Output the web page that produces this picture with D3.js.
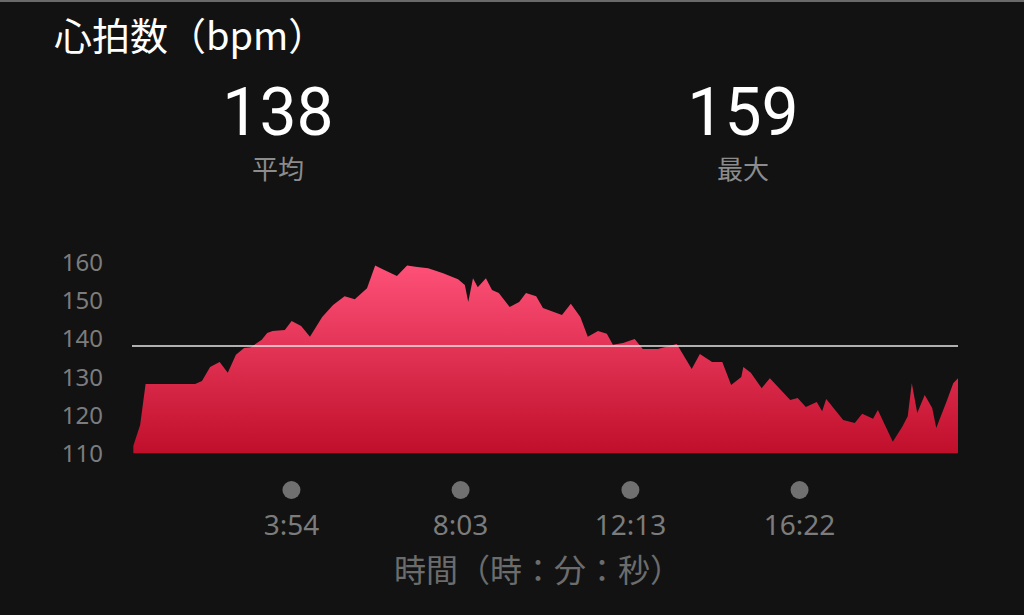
<!DOCTYPE html>
<html>
<head>
<meta charset="utf-8">
<script src="https://cdn.jsdelivr.net/npm/d3@7"></script>
<style>
  html, body { margin: 0; padding: 0; background: #121212; }
  svg { display: block; }
</style>
</head>
<body>
<svg id="chart" width="1024" height="615"></svg>
<script>
// ---- data (time in seconds, heart rate in bpm) ----
const times = [2, 12, 20, 93, 103, 115, 129, 141, 153, 165, 175, 191, 199, 207, 225, 235, 249, 262, 280, 296,
  313, 328, 346, 358, 366, 390, 405, 420, 436, 458, 480, 490, 495, 502, 509, 521, 530, 540, 556, 570,
  580, 595, 605, 633, 646, 660, 671, 686, 699, 708, 723, 740, 752, 774, 802, 824, 836, 854, 869, 882,
  897, 900, 911, 927, 939, 969, 980, 992, 1008, 1016, 1022, 1047, 1064, 1075, 1091, 1098, 1120, 1134, 1142, 1148,
  1156, 1167, 1178, 1184, 1200, 1209, 1216];
const bpm = [112, 117.4, 128.1, 128.1, 128.9, 132.5, 133.8, 131.0, 135.7, 137.5, 137.7, 139.6, 141.4, 141.9, 142.2, 144.5, 143.2, 140.4, 145.6, 148.7,
  151.0, 150.2, 153.1, 159.0, 158.3, 156.3, 159.0, 158.6, 158.3, 157.0, 155.4, 153.9, 149.5, 155.7, 153.3, 155.7, 152.6, 151.8, 148.2, 149.5,
  151.8, 151.0, 147.9, 146.1, 149.0, 145.6, 140.4, 141.9, 141.2, 138.3, 138.8, 139.8, 137.2, 137.2, 138.5, 132.0, 135.9, 133.8, 133.8, 127.8,
  129.9, 132.5, 131.0, 127.0, 129.6, 123.9, 124.4, 122.1, 123.4, 121.0, 124.2, 118.7, 117.9, 120.3, 119.0, 121.3, 113.0, 116.9, 119.7, 128.3,
  120.5, 125.2, 121.8, 116.6, 123.9, 128.3, 129.6];
const yTicks = [110, 120, 130, 140, 150, 160];
const xTicks = [234, 483, 733, 982];
const avgValue = 138;
const maxValue = 159;
const title = "心拍数（bpm）";
const avgLabel = "平均";
const maxLabel = "最大";
const xTitle = "時間（時：分：秒）";

const points = times.map((t, i) => ({ t, v: bpm[i] }));

const svg = d3.select("#chart");
const W = 1024, H = 615;

svg.append("rect").attr("width", W).attr("height", H).attr("fill", "#121212");
svg.append("rect").attr("width", W).attr("height", 2).attr("fill", "#6a6a6a");

const x = d3.scaleLinear().domain([0, 1216]).range([132, 958]);
const y = d3.scaleLinear().domain([110, 160]).range([453.3, 261.7]);

// gradient
const defs = svg.append("defs");
const grad = defs.append("linearGradient")
  .attr("id", "hrGrad")
  .attr("gradientUnits", "userSpaceOnUse")
  .attr("x1", 0).attr("x2", 0)
  .attr("y1", y(160)).attr("y2", y(110));
grad.append("stop").attr("offset", "0%").attr("stop-color", "#ff5279");
grad.append("stop").attr("offset", "100%").attr("stop-color", "#c00f2b");

// title
svg.append("text")
  .attr("x", 54).attr("y", 50)
  .attr("fill", "#ffffff")
  .attr("font-family", "'Noto Sans CJK JP', sans-serif")
  .attr("font-size", 38)
  .text(title);

// big numbers
const stats = [
  { value: avgValue, label: avgLabel, cx: 278 },
  { value: maxValue, label: maxLabel, cx: 743 }
];
stats.forEach(s => {
  svg.append("text")
    .attr("x", s.cx).attr("y", 135)
    .attr("text-anchor", "middle")
    .attr("fill", "#ffffff")
    .attr("font-family", "Roboto, sans-serif")
    .attr("font-size", 66)
    .text(s.value);
  svg.append("text")
    .attr("x", s.cx).attr("y", 179)
    .attr("text-anchor", "middle")
    .attr("fill", "#8c8c8c")
    .attr("font-family", "'Noto Sans CJK JP', sans-serif")
    .attr("font-size", 26)
    .text(s.label);
});

// area
const area = d3.area()
  .x(d => x(d.t))
  .y0(y(110))
  .y1(d => y(d.v))
  .curve(d3.curveLinear);

svg.append("path")
  .datum(points)
  .attr("d", area)
  .attr("fill", "url(#hrGrad)");

// average line
svg.append("line")
  .attr("x1", x(0)).attr("x2", x(1216))
  .attr("y1", y(avgValue)).attr("y2", y(avgValue))
  .attr("stroke", "#e6e6e6")
  .attr("stroke-width", 1.5);

// y axis
const yAxis = d3.axisLeft(y).tickValues(yTicks).tickSize(0).tickPadding(0);
const gy = svg.append("g").attr("transform", "translate(103,0)").call(yAxis);
gy.select(".domain").remove();
gy.selectAll("text")
  .attr("fill", "#7c7c7c")
  .attr("font-family", "'Noto Sans', 'Liberation Sans', sans-serif")
  .attr("font-size", 24)
  .attr("dy", "0.36em");

// x axis
const fmt = s => Math.floor(s / 60) + ":" + String(s % 60).padStart(2, "0");
const xAxis = d3.axisBottom(x).tickValues(xTicks).tickSize(0).tickPadding(0).tickFormat(fmt);
const gx = svg.append("g").attr("transform", "translate(0,490)").call(xAxis);
gx.select(".domain").remove();
gx.selectAll(".tick").append("circle")
  .attr("cx", 0).attr("cy", 0).attr("r", 9)
  .attr("fill", "#707070");
gx.selectAll("text")
  .attr("y", 45)
  .attr("dy", 0)
  .attr("fill", "#7c7c7c")
  .attr("font-family", "'Noto Sans', 'Liberation Sans', sans-serif")
  .attr("font-size", 28);

// x title
svg.append("text")
  .attr("x", 538).attr("y", 582)
  .attr("text-anchor", "middle")
  .attr("fill", "#6c6c6c")
  .attr("font-family", "'Noto Sans CJK JP', sans-serif")
  .attr("font-size", 32)
  .text(xTitle);
</script>
</body>
</html>
